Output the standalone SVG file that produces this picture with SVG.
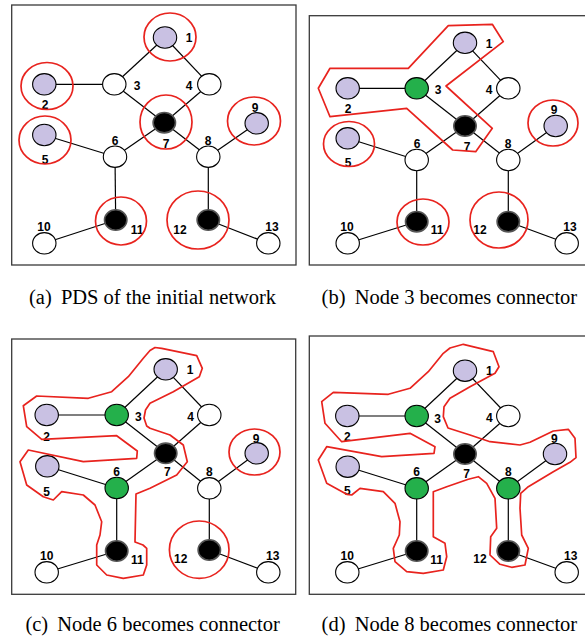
<svg xmlns="http://www.w3.org/2000/svg" width="585" height="639" viewBox="0 0 585 639">
<style>
.bg{fill:#fff}
.frame{fill:none;stroke:#3a3a3a;stroke-width:1.3}
.e line{stroke:#000;stroke-width:1.2}
.n ellipse{stroke:#000;stroke-width:1.1}
.w ellipse{fill:#fff}
.p ellipse{fill:#c9c1e3}
.g ellipse{fill:#24b04b}
.k ellipse{fill:#000;stroke:#555;stroke-width:1.6}
.n text{font-family:"Liberation Sans",Arial,sans-serif;font-weight:bold;font-size:12px;text-anchor:middle;fill:#000}
.r{fill:none;stroke:#e8231e;stroke-width:1.7;stroke-linejoin:round}
.cap{font-family:"Liberation Serif","Times New Roman",serif;font-size:20.5px;fill:#000}
</style>
<rect class="bg" x="0" y="0" width="585" height="639"/>

<!-- Panel (a) -->
<g id="panel-a">
<rect class="frame" x="11.7" y="5" width="284.3" height="260"/>
<g id="a-connectors" class="e">
<line x1="165" y1="37.5" x2="114.3" y2="84.3"/>
<line x1="165" y1="37.5" x2="209.3" y2="84.3"/>
<line x1="44.3" y1="84.3" x2="114.3" y2="84.3"/>
<line x1="114.3" y1="84.3" x2="164.3" y2="122.7"/>
<line x1="209.3" y1="84.3" x2="164.3" y2="122.7"/>
<line x1="44.3" y1="135" x2="115" y2="156.7"/>
<line x1="115" y1="156.7" x2="164.3" y2="122.7"/>
<line x1="164.3" y1="122.7" x2="208.3" y2="156.7"/>
<line x1="208.3" y1="156.7" x2="256.7" y2="123.3"/>
<line x1="115" y1="156.7" x2="115.7" y2="220"/>
<line x1="208.3" y1="156.7" x2="208.3" y2="220"/>
<line x1="44.3" y1="243.3" x2="115.7" y2="220"/>
<line x1="208.3" y1="220" x2="268.3" y2="243.3"/>
</g>
<g id="a-n1" class="n p"><ellipse cx="165" cy="37.5" rx="11.7" ry="10.7"/><text x="189" y="41.5">1</text></g>
<g id="a-n2" class="n p"><ellipse cx="44.3" cy="84.3" rx="11.7" ry="10.7"/><text x="45" y="108.5">2</text></g>
<g id="a-n3" class="n w"><ellipse cx="114.3" cy="84.3" rx="11.7" ry="10.7"/><text x="137" y="89.5">3</text></g>
<g id="a-n4" class="n w"><ellipse cx="209.3" cy="84.3" rx="11.7" ry="10.7"/><text x="189" y="89.5">4</text></g>
<g id="a-n5" class="n p"><ellipse cx="44.3" cy="135" rx="11.7" ry="10.7"/><text x="45" y="163.5">5</text></g>
<g id="a-n6" class="n w"><ellipse cx="115" cy="156.7" rx="11.7" ry="10.7"/><text x="115" y="144.5">6</text></g>
<g id="a-n7" class="n k"><ellipse cx="164.3" cy="122.7" rx="11.2" ry="10.2"/><text x="166" y="147.5">7</text></g>
<g id="a-n8" class="n w"><ellipse cx="208.3" cy="156.7" rx="11.7" ry="10.7"/><text x="208" y="144.5">8</text></g>
<g id="a-n9" class="n p"><ellipse cx="256.7" cy="123.3" rx="11.7" ry="10.7"/><text x="255" y="111.5">9</text></g>
<g id="a-n10" class="n w"><ellipse cx="44.3" cy="243.3" rx="11.7" ry="10.7"/><text x="44" y="230.5">10</text></g>
<g id="a-n11" class="n k"><ellipse cx="115.7" cy="220" rx="11.2" ry="10.2"/><text x="137" y="233.5">11</text></g>
<g id="a-n12" class="n k"><ellipse cx="208.3" cy="220" rx="11.2" ry="10.2"/><text x="180" y="233.5">12</text></g>
<g id="a-n13" class="n w"><ellipse cx="268.3" cy="243.3" rx="11.7" ry="10.7"/><text x="272" y="230.5">13</text></g>
<g id="a-groups">
<ellipse class="r" cx="170" cy="37" rx="26" ry="24"/>
<ellipse class="r" cx="47" cy="86" rx="26" ry="23.5"/>
<ellipse class="r" cx="166" cy="122" rx="26" ry="27"/>
<ellipse class="r" cx="254" cy="121" rx="26.5" ry="24"/>
<ellipse class="r" cx="45" cy="140" rx="26" ry="24"/>
<ellipse class="r" cx="121" cy="221" rx="25.5" ry="24"/>
<ellipse class="r" cx="198" cy="220" rx="31" ry="29"/>
</g>
<text class="cap" x="29" y="304">(a)<tspan dx="4"> PDS of the initial network</tspan></text>
</g>

<!-- Panel (b) -->
<g id="panel-b">
<rect class="frame" x="309.3" y="15.7" width="290" height="249.3"/>
<g id="b-connectors" class="e">
<line x1="465" y1="42.8" x2="416.7" y2="88.3"/>
<line x1="465" y1="42.8" x2="508.3" y2="88.3"/>
<line x1="347.7" y1="88.3" x2="416.7" y2="88.3"/>
<line x1="416.7" y1="88.3" x2="465" y2="126"/>
<line x1="508.3" y1="88.3" x2="465" y2="126"/>
<line x1="347.7" y1="138.3" x2="416.7" y2="160"/>
<line x1="416.7" y1="160" x2="465" y2="126"/>
<line x1="465" y1="126" x2="508.3" y2="160"/>
<line x1="508.3" y1="160" x2="555.7" y2="126"/>
<line x1="416.7" y1="160" x2="416.7" y2="221.7"/>
<line x1="508.3" y1="160" x2="508.3" y2="221.7"/>
<line x1="347.7" y1="243.3" x2="416.7" y2="221.7"/>
<line x1="508.3" y1="221.7" x2="566.7" y2="243.3"/>
</g>
<g id="b-n1" class="n p"><ellipse cx="465" cy="42.8" rx="11.7" ry="10.7"/><text x="489" y="47.5">1</text></g>
<g id="b-n2" class="n p"><ellipse cx="347.7" cy="88.3" rx="11.7" ry="10.7"/><text x="348" y="112.5">2</text></g>
<g id="b-n3" class="n g"><ellipse cx="416.7" cy="88.3" rx="11.7" ry="10.7"/><text x="438" y="93.5">3</text></g>
<g id="b-n4" class="n w"><ellipse cx="508.3" cy="88.3" rx="11.7" ry="10.7"/><text x="489" y="93.5">4</text></g>
<g id="b-n5" class="n p"><ellipse cx="347.7" cy="138.3" rx="11.7" ry="10.7"/><text x="348" y="166.5">5</text></g>
<g id="b-n6" class="n w"><ellipse cx="416.7" cy="160" rx="11.7" ry="10.7"/><text x="417" y="147.5">6</text></g>
<g id="b-n7" class="n k"><ellipse cx="465" cy="126" rx="11.2" ry="10.2"/><text x="467" y="150.5">7</text></g>
<g id="b-n8" class="n w"><ellipse cx="508.3" cy="160" rx="11.7" ry="10.7"/><text x="508" y="147.5">8</text></g>
<g id="b-n9" class="n p"><ellipse cx="555.7" cy="126" rx="11.7" ry="10.7"/><text x="554" y="113.5">9</text></g>
<g id="b-n10" class="n w"><ellipse cx="347.7" cy="243.3" rx="11.7" ry="10.7"/><text x="347" y="230.5">10</text></g>
<g id="b-n11" class="n k"><ellipse cx="416.7" cy="221.7" rx="11.2" ry="10.2"/><text x="437" y="233.5">11</text></g>
<g id="b-n12" class="n k"><ellipse cx="508.3" cy="221.7" rx="11.2" ry="10.2"/><text x="480" y="233.5">12</text></g>
<g id="b-n13" class="n w"><ellipse cx="566.7" cy="243.3" rx="11.7" ry="10.7"/><text x="570" y="230.5">13</text></g>
<g id="b-groups">
<polygon class="r" points="448.3,25.7 492.3,24.3 503.3,41.7 446,86 492.3,128.3 475.7,151.7 452.7,150 406.7,108.3 330,116.7 318.3,88.3 330,68.3 408.3,68.3"/>
<ellipse class="r" cx="349" cy="144" rx="25.5" ry="22.5"/>
<ellipse class="r" cx="553" cy="123" rx="25" ry="23"/>
<ellipse class="r" cx="423" cy="222" rx="26" ry="23"/>
<ellipse class="r" cx="499" cy="220" rx="29" ry="28"/>
</g>
<text class="cap" x="321.6" y="304">(b)<tspan dx="4"> Node 3 becomes connector</tspan></text>
</g>

<!-- Panel (c) -->
<g id="panel-c">
<rect class="frame" x="11.7" y="339" width="284" height="255.3"/>
<g id="c-connectors" class="e">
<line x1="165.7" y1="369.3" x2="116.7" y2="415"/>
<line x1="165.7" y1="369.3" x2="209.3" y2="415"/>
<line x1="46.7" y1="415" x2="116.7" y2="415"/>
<line x1="116.7" y1="415" x2="165.7" y2="453.3"/>
<line x1="209.3" y1="415" x2="165.7" y2="453.3"/>
<line x1="47.3" y1="466.3" x2="116.7" y2="488"/>
<line x1="116.7" y1="488" x2="165.7" y2="453.3"/>
<line x1="165.7" y1="453.3" x2="209.3" y2="488.3"/>
<line x1="209.3" y1="488.3" x2="256.7" y2="453.3"/>
<line x1="116.7" y1="488" x2="116.7" y2="551"/>
<line x1="209.3" y1="488.3" x2="209.3" y2="550"/>
<line x1="46.7" y1="572.3" x2="116.7" y2="551"/>
<line x1="209.3" y1="550" x2="268.3" y2="572.3"/>
</g>
<g id="c-n1" class="n p"><ellipse cx="165.7" cy="369.3" rx="11.7" ry="10.7"/><text x="190" y="373.8">1</text></g>
<g id="c-n2" class="n p"><ellipse cx="46.7" cy="415" rx="11.7" ry="10.7"/><text x="46.7" y="440.5">2</text></g>
<g id="c-n3" class="n g"><ellipse cx="116.7" cy="415" rx="11.7" ry="10.7"/><text x="138.3" y="421.2">3</text></g>
<g id="c-n4" class="n w"><ellipse cx="209.3" cy="415" rx="11.7" ry="10.7"/><text x="190.7" y="421.2">4</text></g>
<g id="c-n5" class="n p"><ellipse cx="47.3" cy="466.3" rx="11.7" ry="10.7"/><text x="46.7" y="495.5">5</text></g>
<g id="c-n6" class="n g"><ellipse cx="116.7" cy="488" rx="11.7" ry="10.7"/><text x="116.7" y="476.2">6</text></g>
<g id="c-n7" class="n k"><ellipse cx="165.7" cy="453.3" rx="11.2" ry="10.2"/><text x="167.3" y="476.2">7</text></g>
<g id="c-n8" class="n w"><ellipse cx="209.3" cy="488.3" rx="11.7" ry="10.7"/><text x="209.3" y="476.2">8</text></g>
<g id="c-n9" class="n p"><ellipse cx="256.7" cy="453.3" rx="11.7" ry="10.7"/><text x="256" y="442.8">9</text></g>
<g id="c-n10" class="n w"><ellipse cx="46.7" cy="572.3" rx="11.7" ry="10.7"/><text x="46.7" y="560.2">10</text></g>
<g id="c-n11" class="n k"><ellipse cx="116.7" cy="551" rx="11.2" ry="10.2"/><text x="137.3" y="563.5">11</text></g>
<g id="c-n12" class="n k"><ellipse cx="209.3" cy="550" rx="11.2" ry="10.2"/><text x="180.7" y="562.8">12</text></g>
<g id="c-n13" class="n w"><ellipse cx="268.3" cy="572.3" rx="11.7" ry="10.7"/><text x="272.7" y="560.2">13</text></g>
<g id="c-groups">
<polygon class="r" points="155,347.5 161.7,348.3 196.7,355.7 202.3,368.3 199.3,376.7 173.3,391.7 150,403.3 145.5,410 144,418 146.7,426 150,428.3 170,435 183.3,445 187.3,461.7 176.7,475 150,488.3 136,494 135,542 143,545 146.7,548.3 146.7,565 143.3,575 123.3,578.3 106.7,575 96.7,565 96.7,545 100,535 101.7,521.7 95,505 83.3,495 61.7,491.7 53.3,500 43.3,496.7 26.7,485 20,461.7 28.3,450 83.3,461.7 136.7,458.3 137.3,451 116.7,435.7 41.7,439.3 26.7,426.7 23.3,405.7 36.7,396 88.3,398.3 111.7,391.7 128.3,376.7 143.3,358.3 150,350.5"/>
<ellipse class="r" cx="254.5" cy="452" rx="25.5" ry="23"/>
<ellipse class="r" cx="199.2" cy="549.7" rx="29.8" ry="28.7"/>
</g>
<text class="cap" x="25.4" y="631">(c)<tspan dx="4"> Node 6 becomes connector</tspan></text>
</g>

<!-- Panel (d) -->
<g id="panel-d">
<rect class="frame" x="309.3" y="336" width="290" height="258.3"/>
<g id="d-connectors" class="e">
<line x1="465" y1="370.7" x2="416.7" y2="416"/>
<line x1="465" y1="370.7" x2="508.3" y2="416"/>
<line x1="347.3" y1="416" x2="416.7" y2="416"/>
<line x1="416.7" y1="416" x2="465" y2="454"/>
<line x1="508.3" y1="416" x2="465" y2="454"/>
<line x1="347.7" y1="466.7" x2="416.7" y2="488.3"/>
<line x1="416.7" y1="488.3" x2="465" y2="454"/>
<line x1="465" y1="454" x2="508.3" y2="488.3"/>
<line x1="508.3" y1="488.3" x2="555" y2="454"/>
<line x1="416.7" y1="488.3" x2="416.7" y2="551"/>
<line x1="508.3" y1="488.3" x2="508.3" y2="551"/>
<line x1="347.3" y1="572.3" x2="416.7" y2="551"/>
<line x1="508.3" y1="551" x2="566.7" y2="572.3"/>
</g>
<g id="d-n1" class="n p"><ellipse cx="465" cy="370.7" rx="11.7" ry="10.7"/><text x="489.3" y="374.5">1</text></g>
<g id="d-n2" class="n p"><ellipse cx="347.3" cy="416" rx="11.7" ry="10.7"/><text x="347.3" y="441.2">2</text></g>
<g id="d-n3" class="n g"><ellipse cx="416.7" cy="416" rx="11.7" ry="10.7"/><text x="437.7" y="422.8">3</text></g>
<g id="d-n4" class="n w"><ellipse cx="508.3" cy="416" rx="11.7" ry="10.7"/><text x="489.3" y="422.2">4</text></g>
<g id="d-n5" class="n p"><ellipse cx="347.7" cy="466.7" rx="11.7" ry="10.7"/><text x="347.3" y="494.5">5</text></g>
<g id="d-n6" class="n g"><ellipse cx="416.7" cy="488.3" rx="11.7" ry="10.7"/><text x="416.7" y="476.2">6</text></g>
<g id="d-n7" class="n k"><ellipse cx="465" cy="454" rx="11.2" ry="10.2"/><text x="466.7" y="477.8">7</text></g>
<g id="d-n8" class="n g"><ellipse cx="508.3" cy="488.3" rx="11.7" ry="10.7"/><text x="508.3" y="476.2">8</text></g>
<g id="d-n9" class="n p"><ellipse cx="555" cy="454" rx="11.7" ry="10.7"/><text x="554.3" y="442.8">9</text></g>
<g id="d-n10" class="n w"><ellipse cx="347.3" cy="572.3" rx="11.7" ry="10.7"/><text x="347.3" y="560.2">10</text></g>
<g id="d-n11" class="n k"><ellipse cx="416.7" cy="551" rx="11.2" ry="10.2"/><text x="436.7" y="563.5">11</text></g>
<g id="d-n12" class="n k"><ellipse cx="508.3" cy="551" rx="11.2" ry="10.2"/><text x="480" y="562.8">12</text></g>
<g id="d-n13" class="n w"><ellipse cx="566.7" cy="572.3" rx="11.7" ry="10.7"/><text x="570.7" y="560.2">13</text></g>
<g id="d-groups">
<polygon class="r" points="463.3,344.3 450,348 443.3,353.3 428.3,371.7 410,388.3 388.3,394.3 333.3,392.3 321.7,401.7 325,423.3 341.7,441.7 410,433.3 435,446.7 434,453.3 381.7,456.7 326.7,446.7 318.3,460 326.7,483.3 346.7,494.3 351.7,495 360,488.3 383.3,491.7 395,503.3 400,521.7 399.3,535 393.3,548.3 395,561.7 406.7,571.7 423.3,573.3 443.3,570 446.7,556.7 445,543.3 433.3,536.7 433.3,491.7 446.7,486.7 468.3,479.3 478.3,476.7 486.7,483.3 495,498.3 496.7,528.3 490.7,536.7 490,555 500,564.3 511.7,567.3 525,565 528.3,548.3 521.7,535 520,508.3 520.7,493.3 528.3,486.7 553.3,471.7 570,462.3 576,457.7 575,438.3 568.3,429.3 553.3,431 530,442.3 520,445 490,441.7 470,435 448,428 443.3,416.7 444,406.7 450,398.3 470,386.7 495,373.3 499,366.7 493.3,351.7"/>
</g>
<text class="cap" x="321.6" y="631">(d)<tspan dx="4"> Node 8 becomes connector</tspan></text>
</g>
</svg>
